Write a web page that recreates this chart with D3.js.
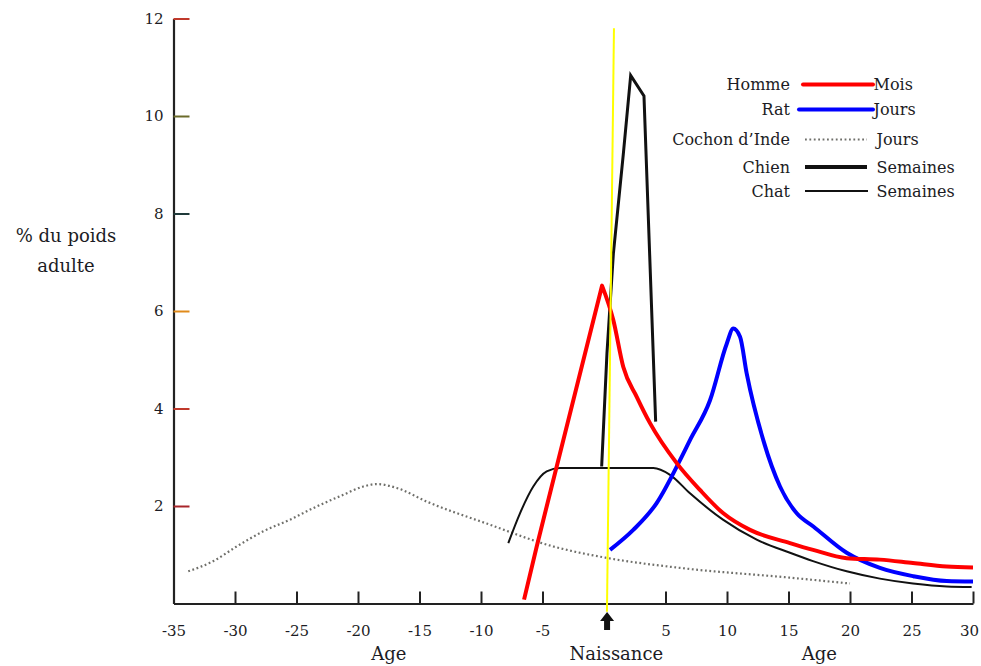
<!DOCTYPE html>
<html>
<head>
<meta charset="utf-8">
<script src="https://cdn.jsdelivr.net/npm/d3@7"></script>
<style>
  body { margin: 0; background: #fff; }
  text { font-family: "DejaVu Serif", serif; fill: #1c1c24; }
</style>
</head>
<body>
<div id="chart"></div>
<script>
var width = 981;
var height = 666;

// axes
var ageTicks = [-35, -30, -25, -20, -15, -10, -5, 5, 10, 15, 20, 25, 30];
var poidsTicks = [2, 4, 6, 8, 10, 12];

// series: [age, % du poids adulte]
var homme = [[-6.5, 0.08], [-5.47, 1.17], [-4.66, 1.99], [-3.31, 3.35], [-0.16, 6.52],
    [0.76, 5.81], [1.57, 4.85], [2.66, 4.24], [3.74, 3.70], [5.91, 2.88], [7.8, 2.33],
    [9.7, 1.85], [11.87, 1.51], [15.12, 1.24], [17.0, 1.10], [19.73, 0.93], [22.43, 0.90],
    [25.12, 0.83], [27.86, 0.76], [30, 0.74]];
var hommePeak = 4; // index of the peak in homme

var rat = [[0.49, 1.10], [2.38, 1.51], [4.28, 2.06], [6.18, 2.94], [6.99, 3.35], [8.62, 4.17],
    [9.98, 5.33], [10.51, 5.64], [11.06, 5.47], [11.6, 4.72], [12.95, 3.35], [14.31, 2.40],
    [15.67, 1.85], [17.02, 1.58], [19.73, 1.04], [22.43, 0.73], [25.15, 0.56], [27.86, 0.46],
    [30, 0.45]];

var cochonInde = [[-33.8, 0.66], [-31.76, 0.87], [-29.86, 1.17], [-27.7, 1.48], [-25.53, 1.72],
    [-23.36, 1.99], [-21.2, 2.23], [-19.57, 2.40], [-18.48, 2.45], [-16.85, 2.37], [-14.41, 2.09],
    [-9.54, 1.64], [-4.12, 1.17], [0.35, 0.93], [6.18, 0.73], [15.12, 0.53], [20.0, 0.41]];

var chien = [[-0.19, 2.81], [0.24, 5.13], [0.76, 7.17], [1.57, 9.22], [2.17, 10.83],
    [3.25, 10.41], [4.2, 3.73]];

var chat = [[-7.78, 1.24], [-6.83, 1.85], [-5.75, 2.40], [-4.66, 2.71], [-3.58, 2.78],
    [4.01, 2.78], [5.37, 2.64], [6.99, 2.26], [9.67, 1.72], [12.41, 1.31], [15.12, 1.04],
    [16.99, 0.87], [19.73, 0.66], [22.43, 0.51], [25.12, 0.41], [27.86, 0.35], [29.89, 0.34]];

// legend
var legendNames = ["Homme", "Rat", "Cochon d\u2019Inde", "Chien", "Chat"];
var legendUnits = ["Mois", "Jours", "Jours", "Semaines", "Semaines"];

var svg = d3.select("#chart").append("svg")
    .attr("width", width)
    .attr("height", height);

var x = d3.scaleLinear()
    .domain([-35, 30])
    .range([173.5, 973]);

var y = d3.scaleLinear()
    .domain([0, 12])
    .range([603.5, 18.5]);

// x axis, ticks pointing up
var xAxis = svg.append("g")
    .attr("transform", "translate(0," + y(0) + ")")
    .call(d3.axisBottom(x)
        .tickValues(ageTicks)
        .tickSizeInner(-12)
        .tickSizeOuter(0)
        .tickPadding(22)
        .tickFormat(function (d) { return d; }));
xAxis.select(".domain").attr("stroke", "#222").attr("stroke-width", 2);
xAxis.selectAll(".tick line").attr("stroke", "#222").attr("stroke-width", 2);
xAxis.selectAll(".tick text")
    .style("font-family", "DejaVu Serif, serif")
    .style("font-size", "15px")
    .attr("fill", "#1c1c24")
    .attr("dx", function (d) { return d == 30 ? -4 : 0; });

// y axis, ticks pointing right
var tickColors = ["#a8252a", "#c0392b", "#e08a1a", "#1f3a3a", "#6b6b2a", "#c0392b"];
var yAxis = svg.append("g")
    .attr("transform", "translate(" + x(-35) + ",0)")
    .call(d3.axisLeft(y)
        .tickValues(poidsTicks)
        .tickSizeInner(-16)
        .tickSizeOuter(0)
        .tickPadding(10));
yAxis.select(".domain").attr("stroke", "#222").attr("stroke-width", 2.2);
yAxis.selectAll(".tick line")
    .attr("stroke", function (d, i) { return tickColors[i]; })
    .attr("stroke-width", 2);
yAxis.selectAll(".tick text")
    .style("font-family", "DejaVu Serif, serif")
    .style("font-size", "15px")
    .attr("fill", "#1c1c24");

// y title
svg.append("text")
    .attr("x", 66)
    .attr("y", 242)
    .attr("text-anchor", "middle")
    .style("font-size", "18px")
    .text("% du poids");
svg.append("text")
    .attr("x", 66)
    .attr("y", 272)
    .attr("text-anchor", "middle")
    .style("font-size", "18px")
    .text("adulte");

// x titles
svg.append("text")
    .attr("x", x(-17.5))
    .attr("y", 660)
    .attr("text-anchor", "middle")
    .style("font-size", "18px")
    .text("Age");
svg.append("text")
    .attr("x", x(1))
    .attr("y", 660)
    .attr("text-anchor", "middle")
    .style("font-size", "18px")
    .text("Naissance");
svg.append("text")
    .attr("x", x(17.5))
    .attr("y", 660)
    .attr("text-anchor", "middle")
    .style("font-size", "18px")
    .text("Age");

// birth arrow
var ax = x(0.25);
svg.append("path")
    .attr("d", "M" + ax + ",612 L" + (ax + 7) + ",621 L" + (ax + 3) + ",621 L" + (ax + 3) + ",630 L" +
        (ax - 3) + ",630 L" + (ax - 3) + ",621 L" + (ax - 7) + ",621 Z")
    .attr("fill", "#111");

var smooth = d3.line()
    .x(function (d) { return x(d[0]); })
    .y(function (d) { return y(d[1]); })
    .curve(d3.curveMonotoneX);

var straight = d3.line()
    .x(function (d) { return x(d[0]); })
    .y(function (d) { return y(d[1]); });

svg.append("path")
    .attr("d", smooth(cochonInde))
    .attr("fill", "none")
    .attr("stroke", "#6f6f6a")
    .attr("stroke-width", 2.2)
    .attr("stroke-dasharray", "1.8,2.6");

svg.append("path")
    .attr("d", smooth(chat))
    .attr("fill", "none")
    .attr("stroke", "#111")
    .attr("stroke-width", 2);

svg.append("path")
    .attr("d", straight(chien))
    .attr("fill", "none")
    .attr("stroke", "#111")
    .attr("stroke-width", 3)
    .attr("stroke-linejoin", "miter");

svg.append("path")
    .attr("d", smooth(rat))
    .attr("fill", "none")
    .attr("stroke", "#0000ff")
    .attr("stroke-width", 4);

// homme: straight rise to a sharp peak, then a smooth decline
var hommePath = straight(homme.slice(0, hommePeak + 1)) +
    smooth(homme.slice(hommePeak)).replace(/^M/, "L");
svg.append("path")
    .attr("d", hommePath)
    .attr("fill", "none")
    .attr("stroke", "#ff0000")
    .attr("stroke-width", 4)
    .attr("stroke-linejoin", "round");

// yellow birth line
svg.append("line")
    .attr("x1", x(0.81))
    .attr("y1", y(11.8))
    .attr("x2", x(0.24))
    .attr("y2", y(-0.17))
    .attr("stroke", "#ffff00")
    .attr("stroke-width", 2);

// legend
var legendY = [90, 115, 145, 172.5, 196.5];
var legendStroke = ["#ff0000", "#0000ff", "#6f6f6a", "#111", "#111"];
var legendWidth = [4, 4, 2.2, 4, 2];
var legendX = [[803, 873], [799, 873], [805, 867], [805, 867], [805, 868]];

var legend = svg.append("g");
legendNames.forEach(function (name, i) {
    var g = legend.append("g");
    g.append("text")
        .attr("x", 790)
        .attr("y", legendY[i])
        .attr("text-anchor", "end")
        .style("font-size", "16px")
        .text(name);
    g.append("line")
        .attr("x1", legendX[i][0])
        .attr("x2", legendX[i][1])
        .attr("y1", legendY[i] - 5.5)
        .attr("y2", legendY[i] - 5.5)
        .attr("stroke", legendStroke[i])
        .attr("stroke-width", legendWidth[i])
        .attr("stroke-linecap", i < 2 ? "round" : "butt")
        .attr("stroke-dasharray", i == 2 ? "1.8,2.6" : null);
    g.append("text")
        .attr("x", i < 2 ? 873.5 : 876.5)
        .attr("y", legendY[i])
        .style("font-size", "16px")
        .text(legendUnits[i]);
});
</script>
</body>
</html>
